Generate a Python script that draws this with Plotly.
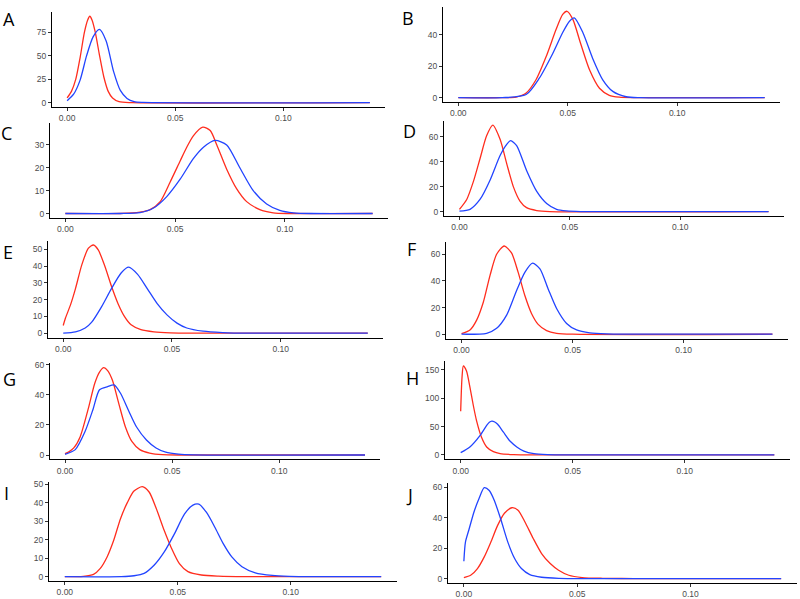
import plotly.graph_objects as go

W, H = 800, 599

# ---------------- data ----------------
A_red_x = [0, 0.002, 0.004, 0.006, 0.008, 0.0095, 0.0105, 0.0115, 0.013, 0.015, 0.017, 0.019, 0.021, 0.024, 0.03, 0.14]
A_red_y = [5, 12, 25, 48, 75, 88, 92, 88, 75, 50, 27, 12, 5, 1, 0, 0]
A_blue_x = [0, 0.003, 0.006, 0.009, 0.012, 0.0149, 0.018, 0.0215, 0.0246, 0.0277, 0.031, 0.035, 0.14]
A_blue_y = [2, 9, 24, 50, 70, 78, 66, 33, 13, 4.5, 1, 0.2, 0]

B_red_x = [0, 0.02, 0.0264, 0.031, 0.0355, 0.0401, 0.0447, 0.0477, 0.0497, 0.0523, 0.056, 0.06, 0.0645, 0.069, 0.0736, 0.08, 0.14]
B_red_y = [0, 0, 0.4, 3, 11.4, 26, 43.5, 53, 55, 50, 34, 17.6, 6, 1.5, 0.3, 0, 0]
B_blue_x = [0, 0.02, 0.031, 0.037, 0.0431, 0.0477, 0.0508, 0.053, 0.0569, 0.0614, 0.066, 0.0706, 0.0767, 0.083, 0.14]
B_blue_y = [0, 0, 2, 12.4, 28, 41.5, 48.7, 50.8, 41.5, 25, 11.4, 4, 0.6, 0, 0]

C_red_x = [0, 0.025, 0.034, 0.0386, 0.0432, 0.0477, 0.0523, 0.0553, 0.0583, 0.0626, 0.066, 0.069, 0.0735, 0.078, 0.0826, 0.0886, 0.0947, 0.102, 0.14]
C_red_y = [0, 0, 0.6, 1.7, 5.2, 13.7, 23, 29, 34, 37.8, 36.3, 30, 19.4, 10.9, 5.2, 1.7, 0.3, 0, 0]
C_blue_x = [0, 0.025, 0.034, 0.0402, 0.0462, 0.0523, 0.0583, 0.0629, 0.0682, 0.0735, 0.0795, 0.0856, 0.0917, 0.0977, 0.104, 0.112, 0.14]
C_blue_y = [0, 0, 0.4, 2.4, 7.4, 15, 24, 29, 32, 30, 20, 10, 4.2, 1.4, 0.3, 0, 0]

D_red_x = [0, 0.0033, 0.0063, 0.0093, 0.0123, 0.0151, 0.0184, 0.0214, 0.0244, 0.0274, 0.0304, 0.035, 0.041, 0.14]
D_red_y = [1.8, 9.7, 24, 42.4, 60.8, 69.4, 58, 38.5, 20, 8.4, 3.1, 0.8, 0, 0]
D_blue_x = [0, 0.0048, 0.0093, 0.0139, 0.0184, 0.0214, 0.0232, 0.0259, 0.0304, 0.035, 0.0395, 0.044, 0.0485, 0.055, 0.14]
D_blue_y = [0.3, 1.8, 9.7, 25.4, 45, 54, 56.9, 53, 33, 16.2, 6.5, 1.8, 0.5, 0, 0]

E_red_x = [0, 0.001, 0.0033, 0.0056, 0.0086, 0.0116, 0.0139, 0.0161, 0.0191, 0.0221, 0.0252, 0.0282, 0.0312, 0.0357, 0.0417, 0.0492, 0.06, 0.14]
E_red_y = [4.6, 8.9, 16.7, 26.4, 41, 50.6, 52.5, 49.6, 40, 28.3, 17.6, 9.9, 5, 2.1, 0.8, 0.2, 0, 0]
E_blue_x = [0, 0.0056, 0.0101, 0.0131, 0.0176, 0.0221, 0.0267, 0.0301, 0.0342, 0.0387, 0.0432, 0.0477, 0.0523, 0.0568, 0.0643, 0.0733, 0.085, 0.14]
E_blue_y = [0, 0.8, 3.1, 6.6, 15.7, 26.4, 36, 39.3, 35, 26.4, 17.6, 10.9, 6, 3.1, 1.2, 0.4, 0, 0]

F_red_x = [0, 0.0038, 0.0068, 0.0098, 0.0128, 0.0158, 0.0192, 0.0225, 0.0255, 0.0285, 0.0315, 0.0345, 0.0383, 0.0428, 0.05, 0.14]
F_red_y = [0.5, 3.2, 10.6, 24, 44, 60, 66.2, 61, 46.4, 29, 15.6, 7.4, 2.7, 0.7, 0, 0]
F_blue_x = [0, 0.0113, 0.0158, 0.0203, 0.0248, 0.0285, 0.032, 0.0353, 0.039, 0.0428, 0.0473, 0.0518, 0.0578, 0.0653, 0.075, 0.14]
F_blue_y = [0, 0.7, 4.4, 14.3, 32.8, 46.4, 53.3, 49, 34, 19.3, 8.1, 3.2, 1, 0.2, 0, 0]

G_red_x = [0, 0.0018, 0.0041, 0.0071, 0.0108, 0.0139, 0.0161, 0.0181, 0.0199, 0.0221, 0.0252, 0.0282, 0.0312, 0.0349, 0.0395, 0.0455, 0.055, 0.14]
G_red_y = [0.9, 2.1, 4.7, 12.2, 30.4, 47.6, 55, 57.9, 56, 49.7, 33.6, 18.6, 9, 3.6, 1.3, 0.2, 0, 0]
G_blue_x = [0, 0.0048, 0.0093, 0.0131, 0.0161, 0.0199, 0.0229, 0.0259, 0.0297, 0.0334, 0.038, 0.0425, 0.047, 0.053, 0.06, 0.14]
G_blue_y = [0.4, 3.6, 15.4, 30.4, 43.3, 45.4, 46.5, 41, 29.4, 18.6, 10, 4.7, 1.9, 0.6, 0.1, 0]

H_red_x = [0, 0.0006, 0.0012, 0.0026, 0.0041, 0.0056, 0.0071, 0.0093, 0.0116, 0.0146, 0.0176, 0.0236, 0.032, 0.14]
H_red_y = [77, 137, 157, 148, 120, 88, 60, 31, 14, 5.7, 2.3, 0.6, 0, 0]
H_blue_x = [0, 0.0041, 0.0086, 0.0116, 0.0128, 0.0139, 0.015, 0.0165, 0.0191, 0.0221, 0.0252, 0.0282, 0.0327, 0.0387, 0.048, 0.14]
H_blue_y = [4, 14, 34, 52, 57.5, 59.5, 58.5, 54, 40, 24, 13.7, 6.8, 2.3, 0.6, 0, 0]

I_red_x = [0, 0.0082, 0.0127, 0.0157, 0.0187, 0.0216, 0.0246, 0.0276, 0.0306, 0.0343, 0.0373, 0.0403, 0.044, 0.047, 0.0507, 0.0545, 0.0604, 0.0679, 0.08, 0.14]
I_red_y = [0, 0.2, 1.25, 4.5, 10.7, 19.6, 31.3, 40, 46.4, 48.8, 45.9, 37.5, 25, 16, 7.1, 2.7, 0.9, 0.3, 0, 0]
I_blue_x = [0, 0.025, 0.0306, 0.0351, 0.0396, 0.044, 0.0485, 0.053, 0.0567, 0.0593, 0.0627, 0.0664, 0.0701, 0.0739, 0.0784, 0.0843, 0.0918, 0.0993, 0.11, 0.14]
I_blue_y = [0, 0, 0.5, 1.8, 6.3, 13.4, 23.2, 34, 38.8, 39.3, 34.8, 26.8, 17.9, 10.7, 5.4, 2.1, 0.7, 0.2, 0, 0]

J_red_x = [0, 0.003, 0.006, 0.009, 0.0119, 0.0149, 0.0179, 0.0212, 0.0239, 0.0269, 0.0306, 0.0343, 0.0381, 0.0418, 0.0463, 0.0522, 0.0612, 0.075, 0.14]
J_red_y = [0.7, 2.2, 6.6, 14.3, 24, 35, 43, 46.6, 45, 37.4, 26.4, 16.5, 9.9, 5.5, 2.2, 0.7, 0.2, 0, 0]
J_blue_x = [0, 0.0007, 0.0022, 0.0045, 0.0067, 0.009, 0.0112, 0.0134, 0.0164, 0.0194, 0.0224, 0.0254, 0.0291, 0.0343, 0.0418, 0.055, 0.14]
J_blue_y = [11.4, 24, 32, 44, 52.7, 59.8, 58, 51.6, 38.5, 24, 13.2, 6.6, 2.6, 0.9, 0.2, 0, 0]

panel_labels = ["A", "B", "C", "D", "E", "F", "G", "H", "I", "J"]
x_ticks = [0.0, 0.05, 0.10]
x_tick_text = ["0.00", "0.05", "0.10"]
y_dticks = [25, 20, 10, 20, 10, 20, 20, 50, 10, 20]

series = [
    (A_red_x, A_red_y, A_blue_x, A_blue_y),
    (B_red_x, B_red_y, B_blue_x, B_blue_y),
    (C_red_x, C_red_y, C_blue_x, C_blue_y),
    (D_red_x, D_red_y, D_blue_x, D_blue_y),
    (E_red_x, E_red_y, E_blue_x, E_blue_y),
    (F_red_x, F_red_y, F_blue_x, F_blue_y),
    (G_red_x, G_red_y, G_blue_x, G_blue_y),
    (H_red_x, H_red_y, H_blue_x, H_blue_y),
    (I_red_x, I_red_y, I_blue_x, I_blue_y),
    (J_red_x, J_red_y, J_blue_x, J_blue_y),
]

# ---------------- layout geometry (pixels) ----------------
# (left, right, top, bottom) of each panel's plotting area
boxes = [
    (52, 385, 8, 104), (443, 780, 3, 99),
    (50, 388, 120, 216), (444, 784, 118, 214),
    (48, 383, 239, 337), (446, 788, 240, 338),
    (50, 380, 363, 460), (445, 790, 361, 460),
    (49, 397, 483, 583), (448, 797, 484, 585),
]
label_pos = [(9, 15), (408, 14), (6, 130), (410, 128), (8, 251),
             (411, 247), (9, 379), (412, 378), (6, 494), (409, 496)]

RED = "#FF2D1E"
BLUE = "#2244FF"

fig = go.Figure()
layout = dict(
    width=W, height=H, margin=dict(l=0, r=0, t=0, b=0),
    paper_bgcolor="white", plot_bgcolor="white", showlegend=False,
    font=dict(family="Liberation Sans, Arial, sans-serif"),
)
annotations = []

for i, (rx, ry, bx, by) in enumerate(series):
    n = i + 1
    xa = "x" if n == 1 else f"x{n}"
    ya = "y" if n == 1 else f"y{n}"
    for xs, ys, col in ((rx, ry, RED), (bx, by, BLUE)):
        fig.add_trace(go.Scatter(
            x=xs, y=ys, mode="lines", xaxis=xa, yaxis=ya,
            line=dict(color=col, width=1.3, shape="spline", smoothing=0.7),
            hoverinfo="skip"))
    l, r, t, b = boxes[i]
    m = max(max(ry), max(by))
    common = dict(showgrid=False, zeroline=False, showline=True, linecolor="black",
                  linewidth=1, ticks="outside", ticklen=3, tickcolor="#333333",
                  tickwidth=1, tickfont=dict(size=8.5, color="#4d4d4d"))
    layout["xaxis" if n == 1 else f"xaxis{n}"] = dict(
        domain=[l / W, r / W], anchor=ya, range=[-0.007, 0.147],
        tickvals=x_ticks, ticktext=x_tick_text, ticklabelstandoff=0, **common)
    layout["yaxis" if n == 1 else f"yaxis{n}"] = dict(
        domain=[1 - b / H, 1 - t / H], anchor=xa,
        range=[-0.05 * m, 1.05 * m], dtick=y_dticks[i], tick0=0, **common)
    lx, ly = label_pos[i]
    annotations.append(dict(
        text=panel_labels[i], x=lx / W, y=1 - ly / H, xref="paper", yref="paper",
        xanchor="center", yanchor="middle", showarrow=False,
        font=dict(family="Open Sans, sans-serif", size=18, color="black")))

layout["annotations"] = annotations
fig.update_layout(**layout)
fig.write_html("out.html", config={"displayModeBar": False},
               post_script="document.body.style.margin='0';document.body.style.overflow='hidden';")
